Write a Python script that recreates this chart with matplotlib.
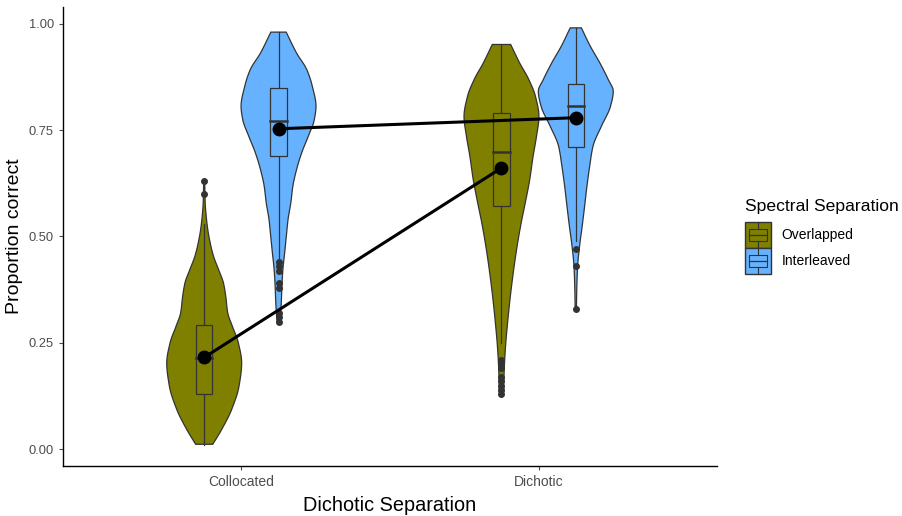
import numpy as np
import matplotlib
matplotlib.use("Agg")
from matplotlib import pyplot as plt
from matplotlib import patches
from matplotlib.legend_handler import HandlerBase
from matplotlib.lines import Line2D

plt.rcParams['font.family'] = ['Liberation Sans', 'DejaVu Sans']

# x categories and hue groups
separations = ["Collocated", "Dichotic"]
spectral = ["Overlapped", "Interleaved"]
colors = ["#808000", "#66B2FF"]

# violin outlines: proportion and relative half width
violin_y = {
    ("Collocated", "Overlapped"): [0.012, 0.047, 0.094, 0.149, 0.203, 0.250, 0.289, 0.321, 0.360,
                                   0.391, 0.423, 0.454, 0.485, 0.516, 0.548, 0.579, 0.630],
    ("Collocated", "Interleaved"): [0.30, 0.345, 0.383, 0.423, 0.462, 0.50, 0.54, 0.579, 0.618,
                                    0.657, 0.697, 0.735, 0.775, 0.806, 0.853, 0.892, 0.931, 0.98],
    ("Dichotic", "Overlapped"): [0.129, 0.188, 0.243, 0.298, 0.36, 0.423, 0.477, 0.532, 0.579,
                                 0.634, 0.689, 0.735, 0.782, 0.829, 0.869, 0.908, 0.951],
    ("Dichotic", "Interleaved"): [0.33, 0.38, 0.43, 0.477, 0.524, 0.571, 0.618, 0.665, 0.712,
                                  0.759, 0.806, 0.841, 0.869, 0.908, 0.947, 0.99],
}
violin_w = {
    ("Collocated", "Overlapped"): [8.6, 17.6, 27.6, 35, 37.6, 34.3, 28.3, 23.6, 21.6,
                                   19.3, 14.3, 9.3, 6, 3.6, 2, 1, 0.5],
    ("Collocated", "Interleaved"): [1.5, 2.7, 3.3, 4.3, 6, 7.6, 9.3, 12, 14,
                                    17.6, 22.7, 29, 35, 36.6, 33, 27.6, 17.6, 7.5],
    ("Dichotic", "Overlapped"): [2, 2.7, 4, 6, 8.7, 12, 15.3, 19.3, 23.3,
                                 27.7, 31, 34.3, 36.7, 33.3, 26.7, 17.7, 9],
    ("Dichotic", "Interleaved"): [0.6, 1, 1.8, 3.7, 6.3, 8.7, 11, 13.7, 17,
                                  25.3, 34.3, 37, 32, 23.7, 14.3, 5.5],
}

# box statistics: q1, median, q3, lower whisker, upper whisker
box_stats = {
    ("Collocated", "Overlapped"): [0.131, 0.215, 0.291, 0.01, 0.53],
    ("Collocated", "Interleaved"): [0.689, 0.772, 0.849, 0.45, 0.98],
    ("Dichotic", "Overlapped"): [0.571, 0.698, 0.790, 0.25, 0.95],
    ("Dichotic", "Interleaved"): [0.711, 0.806, 0.859, 0.49, 0.99],
}
outliers = {
    ("Collocated", "Overlapped"): [0.60, 0.63],
    ("Collocated", "Interleaved"): [0.44, 0.43, 0.42, 0.39, 0.38, 0.32, 0.31, 0.30],
    ("Dichotic", "Overlapped"): [0.21, 0.20, 0.19, 0.17, 0.16, 0.15, 0.14, 0.13],
    ("Dichotic", "Interleaved"): [0.47, 0.43, 0.33],
}
means = {
    "Overlapped": [0.216, 0.661],
    "Interleaved": [0.753, 0.779],
}


def smooth_outline(y, w, n=12):
    # monotone cubic hermite through the read points, only for drawing
    y = np.asarray(y, float)
    w = np.asarray(w, float)
    h = np.diff(y)
    d = np.diff(w) / h
    m = np.zeros_like(w)
    m[0], m[-1] = d[0], d[-1]
    for k in range(1, len(w) - 1):
        if d[k - 1] * d[k] > 0:
            m[k] = 2 / (1 / d[k - 1] + 1 / d[k])
    ys, ws = [], []
    for k in range(len(h)):
        t = np.linspace(0, 1, n, endpoint=False)
        h00 = 2 * t ** 3 - 3 * t ** 2 + 1
        h10 = t ** 3 - 2 * t ** 2 + t
        h01 = -2 * t ** 3 + 3 * t ** 2
        h11 = t ** 3 - t ** 2
        ys.append(y[k] + t * h[k])
        ws.append(h00 * w[k] + h10 * h[k] * m[k] + h01 * w[k + 1] + h11 * h[k] * m[k + 1])
    ys.append([y[-1]])
    ws.append([w[-1]])
    return np.concatenate(ys), np.clip(np.concatenate(ws), 0, None)


class BoxKey(HandlerBase):
    def create_artists(self, legend, orig_handle, xdescent, ydescent, width, height, fontsize, trans):
        fc = orig_handle.get_facecolor()
        ec = "#333333"
        x0, y0 = -xdescent, -ydescent
        bg = patches.Rectangle((x0, y0), width, height, facecolor=fc,
                               edgecolor=ec, lw=1.0, transform=trans)
        bw = width * 0.72
        bx = x0 + (width - bw) / 2
        by = y0 + height * 0.27
        bh = height * 0.46
        box = patches.Rectangle((bx, by), bw, bh, facecolor=fc, edgecolor=ec, lw=0.8, transform=trans)
        cx = x0 + width / 2
        med = Line2D([bx, bx + bw], [by + bh / 2] * 2, color=ec, lw=0.9, transform=trans)
        w1 = Line2D([cx, cx], [y0, by], color=ec, lw=0.8, transform=trans)
        w2 = Line2D([cx, cx], [by + bh, y0 + height], color=ec, lw=0.8, transform=trans)
        return [bg, box, med, w1, w2]


fig = plt.figure(figsize=(9.02, 5.16), dpi=100)
ax = fig.add_axes([63 / 902, 50 / 516, 654 / 902, 459 / 516])

dodge = 0.125
half_max = 0.126
box_half = 0.027
edge = "#333333"

for i, sep in enumerate(separations):
    for j, grp in enumerate(spectral):
        key = (sep, grp)
        xc = i + 1 + (j - 0.5) * 2 * dodge
        y, w = smooth_outline(violin_y[key], violin_w[key])
        w = w / max(violin_w[key]) * half_max
        xs = np.concatenate([xc - w, (xc + w)[::-1]])
        ys = np.concatenate([y, y[::-1]])
        ax.fill(xs, ys, facecolor=colors[j], edgecolor=edge, lw=0.9, zorder=2)

        q1, med, q3, lo, hi = box_stats[key]
        ax.plot([xc, xc], [lo, q1], color=edge, lw=0.9, zorder=3)
        ax.plot([xc, xc], [q3, hi], color=edge, lw=0.9, zorder=3)
        ax.add_patch(patches.Rectangle((xc - box_half, q1), 2 * box_half, q3 - q1,
                                       facecolor=colors[j], edgecolor=edge, lw=0.9, zorder=3))
        ax.plot([xc - box_half, xc + box_half], [med, med], color=edge, lw=1.8, zorder=3)
        ax.plot([xc] * len(outliers[key]), outliers[key], "o", color=edge, ms=4, zorder=3)

for j, grp in enumerate(spectral):
    xs = [i + 1 + (j - 0.5) * 2 * dodge for i in range(len(separations))]
    ax.plot(xs, means[grp], color="black", lw=2.2, zorder=4)
    ax.plot(xs, means[grp], "o", color="black", ms=9, zorder=5)

ax.set_xlim(0.4, 2.6)
ax.set_ylim(-0.039, 1.039)
ax.set_xticks([1, 2])
ax.set_xticklabels(separations)
ax.set_yticks([0, 0.25, 0.5, 0.75, 1.0])
ax.set_yticklabels(["0.00", "0.25", "0.50", "0.75", "1.00"])
ax.tick_params(colors="#4D4D4D", length=3, width=0.8)
ax.tick_params(axis="x", labelsize=10)
ax.tick_params(axis="y", labelsize=9.3)
for s in ["top", "right"]:
    ax.spines[s].set_visible(False)
for s in ["left", "bottom"]:
    ax.spines[s].set_color("black")
    ax.spines[s].set_linewidth(1.0)
ax.set_xlabel("Dichotic Separation", fontsize=14.3, labelpad=5)
ax.set_ylabel("Proportion correct", fontsize=14)
ax.yaxis.set_label_coords(-0.061, 0.5)

fig.text(745 / 902, 1 - 206 / 516, "Spectral Separation", fontsize=12.6,
         ha="left", va="center")
handles = [patches.Patch(facecolor=c) for c in colors]
fig.legend(handles, spectral, handler_map={patches.Patch: BoxKey()},
           loc="upper left", bbox_to_anchor=(745 / 902, 1 - 222 / 516),
           fontsize=10, frameon=False, handlelength=1.87, handleheight=2.5,
           labelspacing=0, handletextpad=0.75, borderaxespad=0, borderpad=0)

fig.savefig("out.png", dpi=100)
